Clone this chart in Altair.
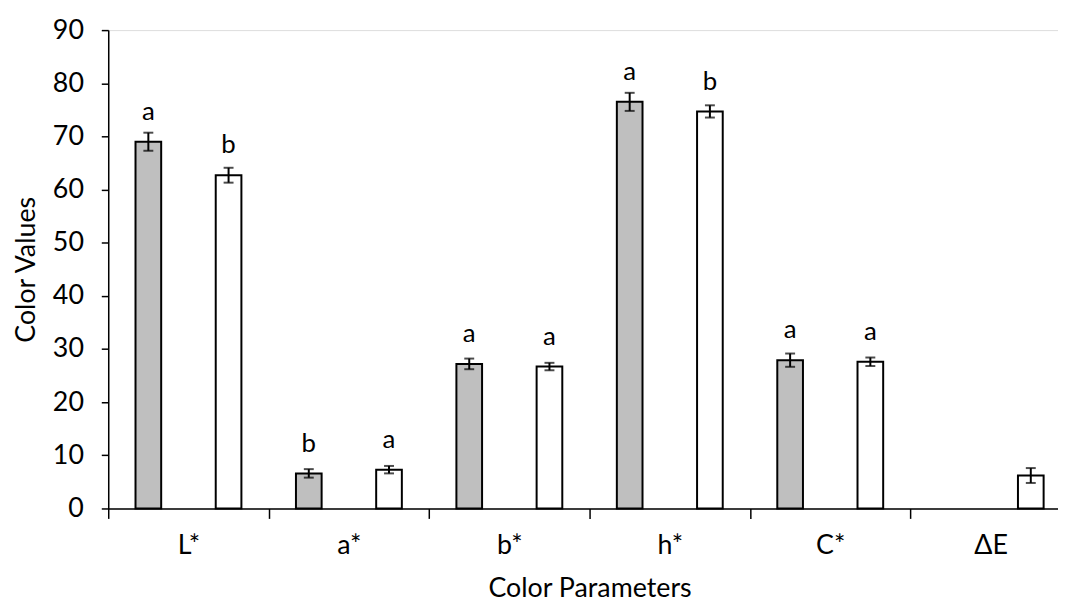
import altair as alt
import pandas as pd

params = ["L*", "a*", "b*", "h*", "C*", "ΔE"]
series = ["Control", "Treated"]
gray_vals = [69.0, 6.6, 27.2, 76.5, 27.9, None]
gray_err = [1.7, 0.8, 1.0, 1.7, 1.25, None]
gray_letters = ["a", "b", "a", "a", "a", ""]
white_vals = [62.7, 7.3, 26.7, 74.7, 27.6, 6.2]
white_err = [1.4, 0.7, 0.7, 1.15, 0.8, 1.4]
white_letters = ["b", "a", "a", "b", "a", ""]

rows = []
for i, p in enumerate(params):
    if gray_vals[i] is not None:
        rows.append(dict(param=p, series=series[0], value=gray_vals[i],
                         lo=gray_vals[i] - gray_err[i], hi=gray_vals[i] + gray_err[i],
                         letter=gray_letters[i]))
    rows.append(dict(param=p, series=series[1], value=white_vals[i],
                     lo=white_vals[i] - white_err[i], hi=white_vals[i] + white_err[i],
                     letter=white_letters[i]))
df = pd.DataFrame(rows)

FONT = "Lato"
FS = 27
step_total = 970

x = alt.X("param:N", sort=params,
          scale=alt.Scale(domain=params, paddingInner=0, paddingOuter=0, range=[0, step_total]),
          axis=alt.Axis(title="Color Parameters", labelAngle=0, tickBand="extent",
                        tickSize=10, tickWidth=1.5, tickColor="black",
                        domainColor="black", domainWidth=1.5,
                        labelFontSize=FS, labelFont=FONT, labelColor="black",
                        labelPadding=14, titleFontSize=FS, titleFont=FONT,
                        titleFontWeight="normal", titleColor="black", titlePadding=18))
xo = alt.XOffset("series:N", sort=series,
                 scale=alt.Scale(domain=series, paddingInner=0.68, paddingOuter=0.34))
y = alt.Y("value:Q", scale=alt.Scale(domain=[0, 90]),
          axis=alt.Axis(title="Color Values", values=list(range(0, 91, 10)), grid=False,
                        tickSize=7, tickWidth=1.5, tickColor="black",
                        domainColor="black", domainWidth=1.5,
                        labelFontSize=FS, labelFont=FONT, labelColor="black",
                        labelPadding=18, titleFontSize=FS, titleFont=FONT,
                        titleFontWeight="normal", titleColor="black", titlePadding=12))
color = alt.Color("series:N", scale=alt.Scale(domain=series, range=["#bfbfbf", "#ffffff"]),
                  legend=None)

base = alt.Chart(df)
bars = base.mark_bar(stroke="black", strokeWidth=2).encode(x=x, xOffset=xo, y=y, color=color)
rules = base.mark_rule(color="black", strokeWidth=2).encode(
    x=alt.X("param:N", sort=params), xOffset=xo, y="lo:Q", y2="hi:Q")
cap_hi = base.mark_tick(color="black", thickness=2, size=10, orient="horizontal").encode(
    x=alt.X("param:N", sort=params), xOffset=xo, y="hi:Q")
cap_lo = base.mark_tick(color="black", thickness=2, size=10, orient="horizontal").encode(
    x=alt.X("param:N", sort=params), xOffset=xo, y="lo:Q")
labels = base.mark_text(font=FONT, fontSize=26, color="black", baseline="alphabetic",
                        dy=-22).encode(
    x=alt.X("param:N", sort=params), xOffset=xo, y="value:Q", text="letter:N")

chart = alt.layer(bars, rules, cap_hi, cap_lo, labels).properties(
    width=957, height=482,
    autosize=alt.AutoSizeParams(type="none"),
    padding={"left": 101, "top": 20, "right": 0, "bottom": 96},
).configure_view(strokeWidth=0).configure(background="white")

chart.save("out.html", embed_options={"renderer": "svg", "actions": False})
